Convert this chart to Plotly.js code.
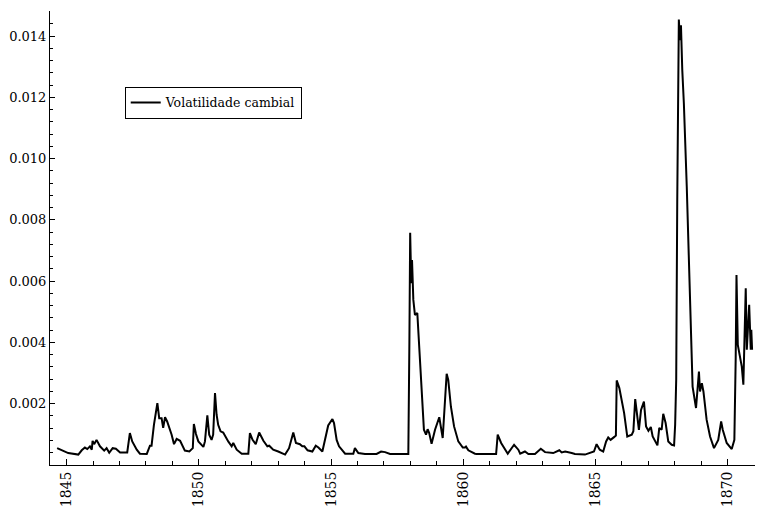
<!DOCTYPE html>
<html>
<head>
<meta charset="utf-8">
<script src="https://cdn.plot.ly/plotly-3.0.1.min.js"></script>
<style>
  html, body { margin: 0; padding: 0; background: #fff; }
  #chart { width: 764px; height: 509px; }
</style>
</head>
<body>
<div id="chart"></div>
<script>
// Series: "Volatilidade cambial" (exchange-rate volatility)
const seriesName = "Volatilidade cambial";

const years = [
  1844.64, 1844.87, 1845.06, 1845.44, 1845.57, 1845.69, 1845.78, 1845.88, 1845.95, 1845.98,
  1846.04, 1846.13, 1846.26, 1846.42, 1846.51, 1846.61, 1846.74, 1846.86, 1847.02, 1847.29,
  1847.39, 1847.48, 1847.65, 1847.77, 1848.03, 1848.15, 1848.21, 1848.30, 1848.43, 1848.50,
  1848.59, 1848.65, 1848.72, 1848.80, 1848.97, 1849.06, 1849.16, 1849.29, 1849.47, 1849.64,
  1849.77, 1849.81, 1849.89, 1849.98, 1850.11, 1850.17, 1850.23, 1850.32, 1850.39, 1850.48,
  1850.54, 1850.61, 1850.67, 1850.73, 1850.82, 1850.92, 1851.11, 1851.24, 1851.30, 1851.43,
  1851.62, 1851.87, 1851.93, 1852.03, 1852.15, 1852.28, 1852.44, 1852.59, 1852.66, 1852.81,
  1853.00, 1853.19, 1853.26, 1853.41, 1853.57, 1853.67, 1853.82, 1853.91, 1853.99, 1854.11,
  1854.29, 1854.42, 1854.52, 1854.67, 1854.77, 1854.89, 1855.05, 1855.11, 1855.21, 1855.30,
  1855.53, 1855.84, 1855.90, 1856.03, 1856.28, 1856.72, 1856.89, 1857.04, 1857.23, 1857.92,
  1857.96, 1857.99, 1858.03, 1858.06, 1858.11, 1858.17, 1858.26, 1858.34, 1858.43, 1858.51,
  1858.59, 1858.65, 1858.71, 1858.80, 1858.93, 1859.09, 1859.22, 1859.31, 1859.37, 1859.43,
  1859.53, 1859.65, 1859.81, 1859.98, 1860.06, 1860.10, 1860.19, 1860.44, 1860.51, 1861.24,
  1861.30, 1861.43, 1861.68, 1861.92, 1862.08, 1862.15, 1862.33, 1862.46, 1862.71, 1862.93,
  1863.09, 1863.40, 1863.63, 1863.72, 1863.85, 1864.10, 1864.22, 1864.60, 1864.79, 1864.94,
  1865.04, 1865.16, 1865.29, 1865.40, 1865.48, 1865.57, 1865.70, 1865.77, 1865.80, 1865.90,
  1866.08, 1866.20, 1866.37, 1866.43, 1866.50, 1866.56, 1866.64, 1866.72, 1866.83, 1866.91,
  1867.00, 1867.09, 1867.16, 1867.34, 1867.41, 1867.50, 1867.56, 1867.65, 1867.75, 1867.88,
  1867.97, 1868.01, 1868.05, 1868.09, 1868.15, 1868.19, 1868.23, 1868.28, 1868.34, 1868.45,
  1868.53, 1868.61, 1868.67, 1868.80, 1868.91, 1868.95, 1869.02, 1869.08, 1869.20, 1869.33,
  1869.48, 1869.64, 1869.75, 1869.81, 1869.96, 1870.15, 1870.25, 1870.30, 1870.33, 1870.38,
  1870.44, 1870.53, 1870.59, 1870.64, 1870.68, 1870.72, 1870.78, 1870.81, 1870.87, 1870.89,
  1870.92
];

const volatility = [
  0.00055, 0.00047, 0.00039, 0.00034, 0.00048, 0.00057, 0.00052, 0.00061, 0.00050, 0.00079,
  0.00068, 0.00082, 0.00061, 0.00047, 0.00055, 0.00040, 0.00055, 0.00053, 0.00041, 0.00041,
  0.00104, 0.00077, 0.00050, 0.00037, 0.00036, 0.00063, 0.00063, 0.00131, 0.00202, 0.00153,
  0.00153, 0.00121, 0.00156, 0.00142, 0.00099, 0.00068, 0.00085, 0.00079, 0.00047, 0.00044,
  0.00055, 0.00134, 0.00101, 0.00077, 0.00066, 0.00059, 0.00077, 0.00162, 0.00099, 0.00082,
  0.00099, 0.00235, 0.00164, 0.00131, 0.00110, 0.00106, 0.00077, 0.00061, 0.00072, 0.00050,
  0.00037, 0.00037, 0.00104, 0.00082, 0.00068, 0.00106, 0.00079, 0.00061, 0.00063, 0.00050,
  0.00044, 0.00036, 0.00034, 0.00055, 0.00106, 0.00072, 0.00068, 0.00061, 0.00061, 0.00048,
  0.00044, 0.00063, 0.00057, 0.00044, 0.00088, 0.00129, 0.00150, 0.00137, 0.00082, 0.00061,
  0.00037, 0.00037, 0.00055, 0.00039, 0.00036, 0.00036, 0.00044, 0.00042, 0.00036, 0.00036,
  0.00398, 0.00758, 0.00593, 0.00669, 0.00539, 0.00490, 0.00496, 0.00365, 0.00224, 0.00115,
  0.00099, 0.00117, 0.00104, 0.00069, 0.00115, 0.00156, 0.00088, 0.00213, 0.00298, 0.00278,
  0.00191, 0.00126, 0.00077, 0.00057, 0.00057, 0.00060, 0.00048, 0.00037, 0.00036, 0.00036,
  0.00099, 0.00072, 0.00037, 0.00066, 0.00050, 0.00037, 0.00044, 0.00036, 0.00036, 0.00053,
  0.00042, 0.00039, 0.00048, 0.00041, 0.00044, 0.00039, 0.00036, 0.00034, 0.00041, 0.00044,
  0.00068, 0.00050, 0.00044, 0.00077, 0.00090, 0.00082, 0.00091, 0.00096, 0.00276, 0.00251,
  0.00170, 0.00093, 0.00099, 0.00110, 0.00215, 0.00164, 0.00115, 0.00180, 0.00207, 0.00126,
  0.00112, 0.00124, 0.00093, 0.00064, 0.00121, 0.00115, 0.00167, 0.00137, 0.00077, 0.00066,
  0.00064, 0.00131, 0.00278, 0.00865, 0.01454, 0.01387, 0.01435, 0.01289, 0.01180, 0.00908,
  0.00647, 0.00408, 0.00256, 0.00186, 0.00305, 0.00240, 0.00267, 0.00240, 0.00148, 0.00093,
  0.00055, 0.00082, 0.00142, 0.00115, 0.00072, 0.00052, 0.00082, 0.00349, 0.00620, 0.00392,
  0.00365, 0.00321, 0.00262, 0.00430, 0.00577, 0.00376, 0.00484, 0.00523, 0.00376, 0.00441,
  0.00376
];

const yTickVals = [0.002, 0.004, 0.006, 0.008, 0.010, 0.012, 0.014];
const yTickText = ["0.002", "0.004", "0.006", "0.008", "0.010", "0.012", "0.014"];
const xTickVals = [1845, 1850, 1855, 1860, 1865, 1870];
const xTickText = ["1845", "1850", "1855", "1860", "1865", "1870"];

const trace = {
  x: years,
  y: volatility,
  type: "scatter",
  mode: "lines",
  name: seriesName,
  line: { color: "#000000", width: 2 },
  hoverinfo: "x+y"
};

const fontFamily = "DejaVu Serif";

const layout = {
  width: 764,
  height: 509,
  margin: { l: 50, r: 9, t: 11, b: 44, pad: 0 },
  paper_bgcolor: "#ffffff",
  plot_bgcolor: "#ffffff",
  font: { family: fontFamily, size: 13, color: "#000000" },
  showlegend: true,
  legend: {
    x: 0.106, y: 0.833, xanchor: "left", yanchor: "top",
    bgcolor: "#ffffff", bordercolor: "#000000", borderwidth: 1,
    font: { family: fontFamily, size: 12.5, color: "#000000" },
    itemwidth: 30, tracegroupgap: 0
  },
  xaxis: {
    range: [1844.37, 1871.03],
    showgrid: false, zeroline: false,
    showline: true, linecolor: "#000000", linewidth: 1, mirror: false,
    ticks: "inside", ticklen: 6, tickwidth: 1, tickcolor: "#000000",
    tickvals: xTickVals, ticktext: xTickText, tickangle: -90,
    tickfont: { family: fontFamily, size: 14, color: "#000000" },
    minor: { dtick: 1, ticks: "inside", ticklen: 4, tickwidth: 1, tickcolor: "#000000", showgrid: false }
  },
  yaxis: {
    range: [0, 0.01482],
    showgrid: false, zeroline: false,
    showline: true, linecolor: "#000000", linewidth: 1, mirror: false,
    ticks: "inside", ticklen: 5, tickwidth: 1, tickcolor: "#000000",
    tickvals: yTickVals, ticktext: yTickText,
    tickfont: { family: fontFamily, size: 13, color: "#000000" },
    minor: { dtick: 0.0004, tick0: 0, ticks: "inside", ticklen: 3, tickwidth: 1, tickcolor: "#000000", showgrid: false }
  }
};

Plotly.newPlot("chart", [trace], layout, { displayModeBar: false, staticPlot: true });
</script>
</body>
</html>
